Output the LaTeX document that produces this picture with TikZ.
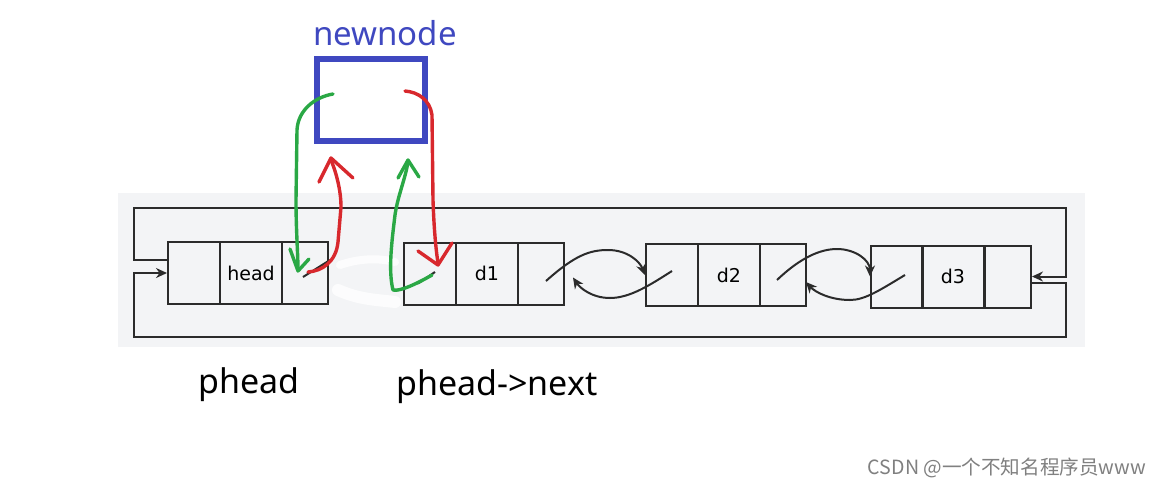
\documentclass[tikz,border=0pt]{standalone}
\usepackage{fontspec}
\setmainfont{Noto Sans}
\newfontfamily\cellfont{DejaVu Sans}
\newfontfamily\cjkfont{Noto Sans CJK SC}
\usetikzlibrary{arrows.meta,calc}
\definecolor{bgc}{HTML}{F3F4F6}
\definecolor{lk}{HTML}{2B2B2B}
\definecolor{pred}{HTML}{D8282D}
\definecolor{pgreen}{HTML}{2AA845}
\definecolor{pblue}{HTML}{3F48C0}
\begin{document}
\begin{tikzpicture}[x=0.5pt,y=-0.5pt,
  cell/.style={draw=lk, line width=1pt, minimum height=31pt, inner sep=0pt,
    font=\cellfont\fontsize{9.5}{11}\selectfont},
  cwa/.style={cell, minimum width=26pt},
  cwb/.style={cell, minimum width=31pt},
  cwc/.style={cell, minimum width=23pt},
  link/.style={draw=lk, line width=1pt},
  larr/.style={link, -{Stealth[length=5.5pt,width=5pt]}},
  redpen/.style={draw=pred, line width=1.7pt, line cap=round, line join=round},
  greenpen/.style={draw=pgreen, line width=1.7pt, line cap=round, line join=round},
  lbl/.style={font=\fontsize{17}{20}\selectfont, text=black}]
\useasboundingbox (0,0) rectangle (1158,488);
\fill[white] (0,0) rectangle (1158,488);
% grey panel
\fill[bgc] (118,193) rectangle (1085,347);
% eraser smudge
\draw[white, opacity=0.8, line width=6pt, line cap=round] (338,290) .. controls (360,300) and (380,300) .. (395,302);
\draw[white, opacity=0.8, line width=4pt, line cap=round] (340,265) .. controls (360,258) and (380,258) .. (395,262);
% nodes
\node[cwa] (hp) at (194,273) {};
\node[cwb] (hd) at (251,273) {head};
\node[cwc] (hn) at (305,273) {};
\node[cwa] (ap) at (430,273.5) {};
\node[cwb] (ad) at (487,273.5) {d1};
\node[cwc] (an) at (541,273.5) {};
\node[cwa] (bp) at (672,275) {};
\node[cwb] (bd) at (729,275) {d2};
\node[cwc] (bn) at (783,275) {};
\node[cwa] (cp) at (897,276.5) {};
\node[cwb] (cd) at (953,276.5) {d3};
\node[cwc] (cn) at (1008,276.5) {};
% outer loop
\draw[larr] ($(hp.west)+(0,-13)$) -- (134,260) -- (134,208) -- (1066,208) -- (1066,276.5) -- (cn.east);
\draw[larr] ($(cn.east)+(0,6.5)$) -- (1066,283) -- (1066,337) -- (134,337) -- (134,273) -- (hp.west);
% pointer slashes
\draw[link] ($(hn.center)+(-2,4)$) -- ($(hn.center)+(25,-13)$);
\draw[link] ($(ap.center)+(-12,10)$) -- ($(ap.center)+(5,-1.5)$);
% d1 <-> d2
\draw[larr] ($(an.center)+(5,7.5)$) .. controls (575,255) and (590,250) .. (608,250)
  .. controls (628,250) and (640,262) .. (bp.west);
\draw[larr] ($(bp.center)+(0,-4)$) .. controls (650,285) and (630,298) .. (610,298)
  .. controls (592,298) and (580,288) .. ($(an.east)+(8,4)$);
% d2 <-> d3
\draw[larr] ($(bn.center)+(-6,5)$) .. controls (800,258) and (820,249) .. (837,249)
  .. controls (855,249) and (870,260) .. (cp.west);
\draw[larr] ($(cp.center)+(8,-1.5)$) .. controls (880,290) and (865,300) .. (850,300)
  .. controls (830,300) and (815,292) .. ($(bn.east)+(-1,7)$);
% new node
\node[draw=pblue, line width=2.6pt, minimum width=54pt, minimum height=41pt, inner sep=0pt] (nn) at (371,100) {};
\node[font=\fontsize{16.5}{20}\selectfont, text=pblue] (nnl) at (385,33) {newnode};
% freehand strokes
\draw[greenpen] (333,94) .. controls (315,97) and (298,110) .. (297,130) -- (296,200)
  .. controls (296,230) and (298,255) .. (298,270);
\draw[greenpen] (290,249) -- (298,271) -- (309,259);
\draw[redpen] (308,272) .. controls (322,271) and (336,262) .. (338,242) -- (341,207)
  .. controls (341,190) and (336,172) .. (331,160);
\draw[redpen] (319,182) -- (331,158) -- (353,178);
\draw[greenpen] (432,275) .. controls (420,282) and (400,292) .. (393,290)
  .. controls (388,270) and (392,240) .. (395,215) .. controls (398,195) and (405,180) .. (408,162);
\draw[greenpen] (398,178) -- (408,160) -- (419,177);
\draw[redpen] (405,91) .. controls (418,92) and (430,100) .. (432,115) -- (433,200)
  .. controls (434,230) and (436,250) .. (438,263);
\draw[redpen] (418,251) -- (438,265) -- (452,243);
% labels
\node[lbl] (l1) at (249,385) {phead};
\node[lbl] (l2) at (497,387) {phead->next};
\node[font=\cjkfont\fontsize{9.8}{12}\selectfont, text=black!50] (wm) at (1007,468) {CSDN @一个不知名程序员www};
\end{tikzpicture}
\end{document}
